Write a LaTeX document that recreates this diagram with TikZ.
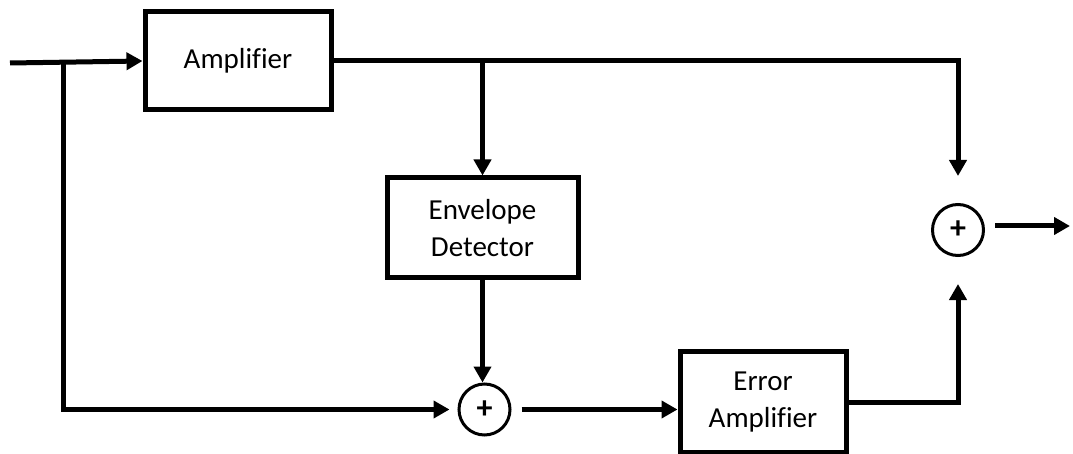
\documentclass[tikz,border=0pt]{standalone}
\usepackage{fontspec}
\setmainfont[Ligatures=NoCommon]{Carlito}
\usetikzlibrary{arrows.meta,calc}

\begin{document}
\begin{tikzpicture}[x=1pt,y=-1pt,
  block/.style={draw,line width=5pt,inner sep=0pt,align=center,
                font=\fontsize{29}{37}\selectfont},
  adder/.style={draw,circle,line width=3pt,inner sep=0pt,minimum size=51pt,
                font=\bfseries\fontsize{32}{32}\selectfont},
  wire/.style={line width=5pt},
  sig/.style={wire,-{Triangle[length=16pt,width=17pt]}},
]
\useasboundingbox (0,0) rectangle (1073,454);

% blocks
\node[block,minimum width=186pt,minimum height=98pt]  (amp) at (238,61)    {Amplifier};
\node[block,minimum width=191pt,minimum height=100pt] (env) at (482.5,228) {Envelope\\Detector};
\node[block,minimum width=166pt,minimum height=101pt] (err) at (763,402)   {Error\\Amplifier};

% summing junctions
\node[adder] (s1) at (484.5,409.5) {+};
\node[adder] (s2) at (958,230)     {+};

% free ends
\coordinate (in)  at (10,63);
\coordinate (tap) at (63,63);
\coordinate (out) at (1070,226);

% input path and feed-forward branch
\draw[sig] (in) -- (amp.west);
\draw[sig,shorten >=8pt] (tap) |- (s1.west);

% amplifier output to the main output adder
\draw[sig,shorten >=27pt] (amp.east) -| (s2.north);
\draw[sig] (env.north |- amp.east) -- (env.north);

% envelope detector into the error adder
\draw[sig] (env.south) -- (env.south |- s1.north);

% error path
\draw[sig,shorten <=10pt] (s1.east) -- (s1.east -| err.west);
\draw[sig,shorten >=27pt] (err.east) -| (s2.south);

% output
\draw[sig,shorten <=10pt] (s2.east |- out) -- (out);
\end{tikzpicture}
\end{document}
